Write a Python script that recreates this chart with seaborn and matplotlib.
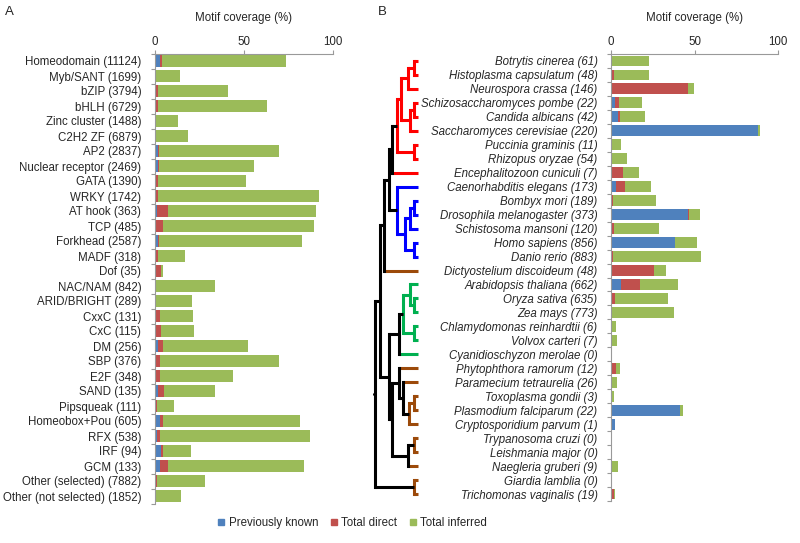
import numpy as np
import pandas as pd
import matplotlib
matplotlib.use('Agg')
import matplotlib.pyplot as plt
from matplotlib.lines import Line2D
import seaborn as sns

# ---- data: panel A (TF families) ----
families = ['Homeodomain (11124)', 'Myb/SANT (1699)', 'bZIP (3794)', 'bHLH (6729)',
            'Zinc cluster (1488)', 'C2H2 ZF (6879)', 'AP2 (2837)', 'Nuclear receptor (2469)',
            'GATA (1390)', 'WRKY (1742)', 'AT hook (363)', 'TCP (485)', 'Forkhead (2587)',
            'MADF (318)', 'Dof (35)', 'NAC/NAM (842)', 'ARID/BRIGHT (289)', 'CxxC (131)',
            'CxC (115)', 'DM (256)', 'SBP (376)', 'E2F (348)', 'SAND (135)', 'Pipsqueak (111)',
            'Homeobox+Pou (605)', 'RFX (538)', 'IRF (94)', 'GCM (133)', 'Other (selected) (7882)',
            'Other (not selected) (1852)']
fam_known = [2.8, 0.5, 1, 1, 0.5, 0.5, 2, 2, 1, 0.3, 1.5, 0.5, 2, 0.5, 0.3, 0.3, 0.3, 0.3,
             0.3, 2, 0.5, 1, 2, 0.3, 3.2, 1.5, 3.9, 3.2, 1, 0.3]
fam_direct = [4.3, 1, 2, 2, 1, 0.8, 2.5, 2.5, 2, 2, 7.8, 5, 2.3, 2, 3.6, 1, 1, 3.2,
              3.6, 4.7, 3.2, 3, 5.2, 1.5, 4.8, 3, 4.8, 7.5, 1.5, 0.5]
fam_inferred = [73.4, 14.4, 41, 62.8, 13.4, 18.7, 69.5, 55.7, 51.4, 92, 90.3, 89, 82.5,
                17.2, 4.9, 34, 20.9, 21.5, 22, 52.2, 69.7, 43.8, 33.7, 11, 81.2, 86.8,
                20.5, 83.6, 28.5, 14.9]

# ---- data: panel B (species) ----
species = ['Botrytis cinerea (61)', 'Histoplasma capsulatum (48)', 'Neurospora crassa (146)',
           'Schizosaccharomyces pombe (22)', 'Candida albicans (42)',
           'Saccharomyces cerevisiae (220)', 'Puccinia graminis (11)', 'Rhizopus oryzae (54)',
           'Encephalitozoon cuniculi (7)', 'Caenorhabditis elegans (173)', 'Bombyx mori (189)',
           'Drosophila melanogaster (373)', 'Schistosoma mansoni (120)', 'Homo sapiens (856)',
           'Danio rerio (883)', 'Dictyostelium discoideum (48)', 'Arabidopsis thaliana (662)',
           'Oryza sativa (635)', 'Zea mays (773)', 'Chlamydomonas reinhardtii (6)',
           'Volvox carteri (7)', 'Cyanidioschyzon merolae (0)', 'Phytophthora ramorum (12)',
           'Paramecium tetraurelia (26)', 'Toxoplasma gondii (3)', 'Plasmodium falciparum (22)',
           'Cryptosporidium parvum (1)', 'Trypanosoma cruzi (0)', 'Leishmania major (0)',
           'Naegleria gruberi (9)', 'Giardia lamblia (0)', 'Trichomonas vaginalis (19)']
sp_known = [0, 0, 0.3, 2.4, 4.2, 87.7, 0, 0, 0, 3, 0, 46.1, 0, 38.2, 0.3, 0, 6, 0.3, 0,
            0, 0, 0, 0, 0, 0, 41.6, 2.6, 0, 0, 0, 0, 0]
sp_direct = [0.3, 2, 46.3, 4.8, 5.6, 87.7, 0.3, 0, 7.6, 8.3, 1.5, 46.5, 2, 38.5, 1.5, 25.8,
             17.5, 2.8, 0.5, 0, 0, 0, 3.2, 0.5, 0, 41.6, 2.6, 0, 0, 0, 0, 2]
sp_inferred = [22.7, 22.7, 49.9, 18.7, 20.3, 89, 6.4, 9.9, 17.1, 23.9, 27, 53.3, 28.6, 51.3,
               53.7, 33.2, 40, 34.4, 38, 3.2, 3.8, 0, 5.4, 3.8, 1.8, 43.3, 2.6, 0, 0, 4.2,
               0, 2.4]

# clade of each species (colours of the tree tips)
sp_clade = ['fungi'] * 9 + ['animal'] * 6 + ['other'] + ['plant'] * 6 + ['other'] * 10

# tree: leaves are species indices, nodes are (height, clade, children)
tree = (41, 'k', [
    (36, 'k', [
        (33, 'k', [
            (28, 'k', [
                (25, 'k', [
                    (20, 'fungi', [
                        (16.5, 'fungi', [
                            (10, 'fungi', [(4, 'fungi', [0, 1]), 2]),
                            (8, 'fungi', [(4, 'fungi', [3, 4]), 5]),
                        ]),
                        (4, 'fungi', [6, 7]),
                    ]),
                    8,
                ]),
                (20, 'animal', [
                    9,
                    (13, 'animal', [
                        (8, 'animal', [(4, 'animal', [10, 11]), 12]),
                        (4, 'animal', [13, 14]),
                    ]),
                ]),
            ]),
            15,
        ]),
        (28, 'k', [
            (18, 'k', [
                (15, 'plant', [
                    (8, 'plant', [16, (4, 'plant', [17, 18])]),
                    (4, 'plant', [19, 20]),
                ]),
                21,
            ]),
            (25, 'k', [
                (18, 'k', [
                    22,
                    (15, 'k', [
                        23,
                        (9, 'other', [(4, 'other', [24, 25]), 26]),
                    ]),
                ]),
                (10, 'k', [(4, 'other', [27, 28]), 29]),
            ]),
        ]),
    ]),
    (4, 'other', [30, 31]),
])

clade_colors = {'fungi': '#FF0000', 'animal': '#0000FF', 'plant': '#00B050',
                'other': '#9C4A0A', 'k': 'black'}
c_known, c_direct, c_inferred = '#4F81BD', '#C0504D', '#9BBB59'

sns.set_style('white')
plt.rcParams['font.family'] = ['Liberation Sans', 'DejaVu Sans']
FS = 8.3

fig = plt.figure(figsize=(8, 5.43), dpi=100)
W, H = 800.0, 543.0


def px_axes(left, top, right, bottom):
    return fig.add_axes([left / W, 1 - bottom / H, (right - left) / W, (bottom - top) / H])


def coverage_panel(ax, labels, known, direct, inferred, italic=False):
    df = pd.DataFrame({'label': labels, 'known': known, 'direct': direct,
                       'inferred': inferred})
    for col, c in [('inferred', c_inferred), ('direct', c_direct), ('known', c_known)]:
        sns.barplot(data=df, x=col, y='label', orient='h', color=c, saturation=1,
                    width=0.78, linewidth=0, ax=ax)
    n = len(labels)
    ax.set_xlim(0, 100)
    ax.set_ylim(n - 0.5, -0.5)
    ax.xaxis.tick_top()
    ax.xaxis.set_label_position('top')
    ax.set_xticks([0, 50, 100])
    ax.set_xlabel('Motif coverage (%)', fontsize=FS, labelpad=11)
    ax.set_ylabel('')
    ax.tick_params(axis='x', top=True, bottom=False, length=3, width=0.8, color='#999999',
                   labelsize=FS, pad=1)
    ax.tick_params(axis='y', which='major', left=False, labelsize=FS, pad=6)
    ax.set_yticks(np.arange(n + 1) - 0.5, minor=True)
    ax.tick_params(axis='y', which='minor', left=True, length=3, width=0.8, color='#999999')
    for s in ['right', 'bottom']:
        ax.spines[s].set_visible(False)
    for s in ['left', 'top']:
        ax.spines[s].set_color('#999999')
        ax.spines[s].set_linewidth(0.8)
    if italic:
        for t in ax.get_yticklabels():
            t.set_fontstyle('italic')


axA = px_axes(154.5, 53.5, 333.3, 503.5)
coverage_panel(axA, families, fam_known, fam_direct, fam_inferred)

axB = px_axes(610.7, 54, 778.3, 501)
coverage_panel(axB, species, sp_known, sp_direct, sp_inferred, italic=True)

# ---- dendrogram ----
axT = px_axes(373, 54, 420, 501)
axT.set_ylim(len(species) - 0.5, -0.5)
axT.set_xlim(43, -1.5)
axT.axis('off')
lw = 2.2


def draw(node, parent_h, parent_col):
    if isinstance(node, int):
        col = clade_colors[sp_clade[node]]
        axT.plot([parent_h, 0], [node, node], color=col, lw=lw, solid_capstyle='butt')
        return node
    h, clade, kids = node
    col = clade_colors[clade]
    ys = [draw(k, h, col) for k in kids]
    axT.plot([h, h], [min(ys), max(ys)], color=col, lw=lw, solid_capstyle='projecting')
    y = (min(ys) + max(ys)) / 2
    if parent_h is not None:
        axT.plot([parent_h, h], [y, y], color=parent_col, lw=lw, solid_capstyle='butt')
    return y


root_y = draw(tree, None, 'black')
axT.plot([tree[0] + 1.5, tree[0]], [root_y, root_y], color='black', lw=lw)

fig.text(5 / W, 1 - 12 / H, 'A', fontsize=9.5, va='center')
fig.text(378 / W, 1 - 12 / H, 'B', fontsize=9.5, va='center')

handles = [Line2D([], [], marker='s', ls='', ms=4.5, color=c)
           for c in [c_known, c_direct, c_inferred]]
fig.legend(handles, ['Previously known', 'Total direct', 'Total inferred'],
           loc='center', bbox_to_anchor=(352 / W, 1 - 523 / H), ncol=3, frameon=False,
           fontsize=FS, handlelength=0.7, handletextpad=0.3, columnspacing=1.0)

fig.savefig('out.png', dpi=100)
